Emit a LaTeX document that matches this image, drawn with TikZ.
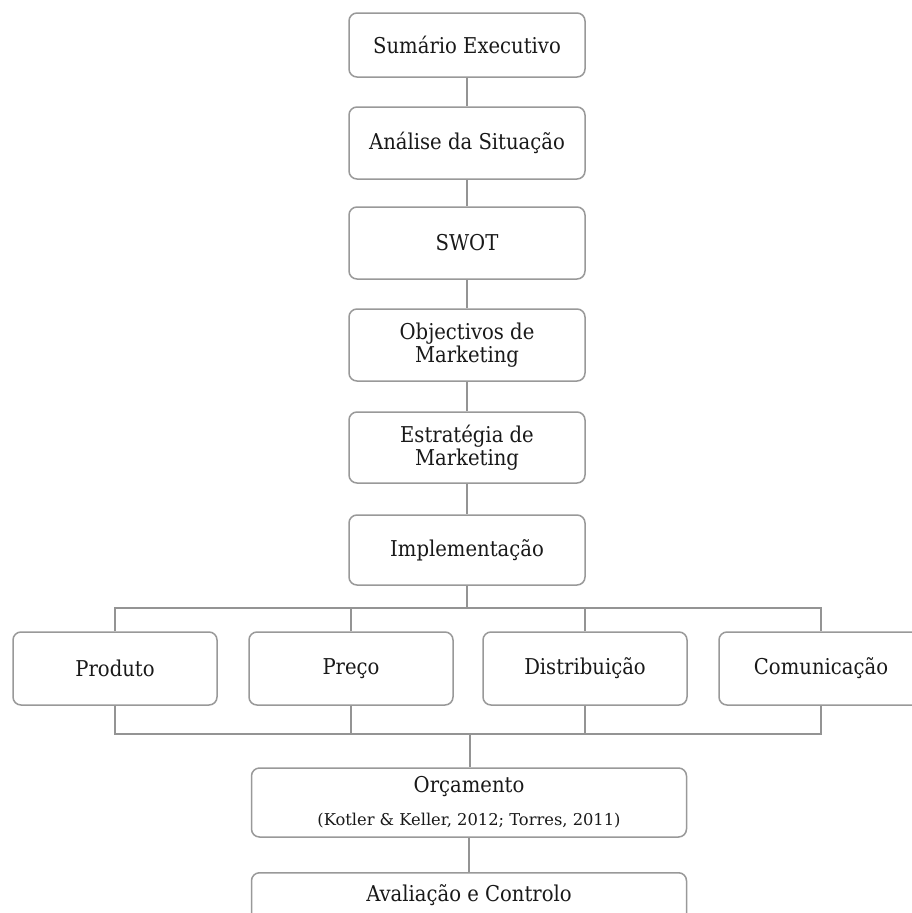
\documentclass[tikz,border=0pt]{standalone}
\usepackage{fontspec}
\setmainfont{DejaVu Serif Condensed}
\newfontfamily\citefont{DejaVu Serif}
\begin{document}
\begin{tikzpicture}[x=1pt,y=-1pt,
  box/.style={draw=black!40, line width=1.5pt, rounded corners=8pt,
    fill=white, text=black!90, align=center, inner sep=0pt,
    font=\fontsize{21.8}{23}\selectfont},
  label/.style={text=black!90, inner sep=0pt, font=\fontsize{21.8}{23}\selectfont},
  wire/.style={draw=black!42, line width=1.5pt}]
\useasboundingbox[fill=white] (0,0) rectangle (912,913);

% main column
\node[box, minimum width=236pt, minimum height=64pt] (s1) at (467,45) {Sumário Executivo};
\node[box, minimum width=236pt, minimum height=72pt] (s2) at (467,143) {Análise da Situação};
\node[box, minimum width=236pt, minimum height=72pt] (s3) at (467,243) {SWOT};
\node[box, minimum width=236pt, minimum height=72pt] (s4) at (467,345) {Objectivos de\\Marketing};
\node[box, minimum width=236pt, minimum height=71pt] (s5) at (467,447.5) {Estratégia de\\Marketing};
\node[box, minimum width=236pt, minimum height=70pt] (s6) at (467,550) {Implementação};

% marketing mix row
\node[box, minimum width=204pt, minimum height=73pt] (p1) at (115,668.5) {Produto};
\node[box, minimum width=204pt, minimum height=73pt] (p2) at (351,668.5) {Preço};
\node[box, minimum width=204pt, minimum height=73pt] (p3) at (585,668.5) {Distribuição};
\node[box, minimum width=204pt, minimum height=73pt] (p4) at (821,668.5) {Comunicação};

% budget and control
\node[box, minimum width=435pt, minimum height=69pt] (b1) at (469,802.5) {};
\node[label] (b1a) at (469,787) {Orçamento};
\node[label, font=\citefont\fontsize{16.3}{18}\selectfont] (b1b) at (469,821) {(Kotler \& Keller, 2012; Torres, 2011)};
\node[box, minimum width=435pt, minimum height=70pt, anchor=north] (b2) at (469,872) {};
\node[label] (b2t) at (469,895) {Avaliação e Controlo};

\coordinate (busT) at (468,608);
\coordinate (busB) at (470,734);

% vertical chain
\draw[wire] (s1.south) -- (s2.north);
\draw[wire] (s2.south) -- (s3.north);
\draw[wire] (s3.south) -- (s4.north);
\draw[wire] (s4.south) -- (s5.north);
\draw[wire] (s5.south) -- (s6.north);
\draw[wire] (s6.south) -- (s6.south |- busT);

% upper bus
\draw[wire] (p1.north) |- (p4.north |- busT) -- (p4.north);
\draw[wire] (p2.north) -- (p2.north |- busT);
\draw[wire] (p3.north) -- (p3.north |- busT);

% lower bus
\draw[wire] (p1.south) |- (p4.south |- busB) -- (p4.south);
\draw[wire] (p2.south) -- (p2.south |- busB);
\draw[wire] (p3.south) -- (p3.south |- busB);
\draw[wire] (busB) -- (busB |- b1.north);

\draw[wire] (b1.south) -- (b2.north);
\end{tikzpicture}
\end{document}
